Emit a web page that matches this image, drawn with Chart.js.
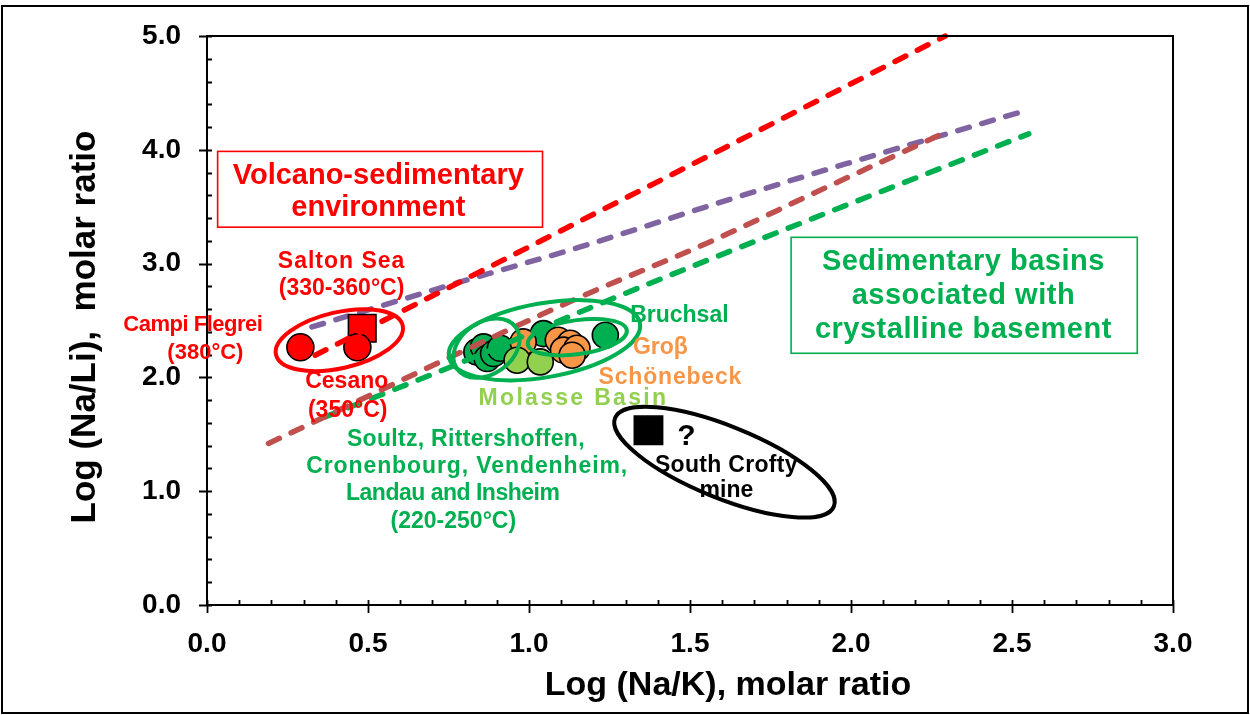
<!DOCTYPE html>
<html>
<head>
<meta charset="utf-8">
<script src="https://cdn.jsdelivr.net/npm/chart.js@4.4.1/dist/chart.umd.min.js"></script>
<style>
  html, body { margin: 0; padding: 0; background: #fff; }
  canvas { display: block; }
</style>
</head>
<body>
<canvas id="chart" width="1250" height="715"></canvas>
<script>
// ---- data: Log(Na/K) (x) vs Log(Na/Li) (y), molar ratios ----
const xTickValues = [0, 0.5, 1.0, 1.5, 2.0, 2.5, 3.0];
const yTickValues = [0, 1, 2, 3, 4, 5];

// volcano-sedimentary fluids
const campiCesanoX = [0.290, 0.467];
const campiCesanoY = [2.265, 2.265];
const saltonSeaX = [0.482];
const saltonSeaY = [2.432];

// Upper Rhine Graben fluids (Soultz, Rittershoffen, ... and Bruchsal)
const rhineX = [0.838, 0.859, 0.870, 0.890, 0.911, 1.045, 1.237];
const rhineY = [2.224, 2.268, 2.166, 2.210, 2.256, 2.385, 2.370];

// North German Basin (Groß Schönebeck)
const schoenebeckX = [0.982, 1.091, 1.128, 1.107, 1.149, 1.134];
const schoenebeckY = [2.312, 2.327, 2.300, 2.240, 2.256, 2.195];

// Molasse Basin
const molasseX = [0.963, 1.035];
const molasseY = [2.151, 2.136];

// South Crofty mine
const croftyX = [1.371];
const croftyY = [1.536];

// reference trends
const redTrendX = [0.336, 2.293];
const redTrendY = [2.195, 5.000];
const purpleTrendX = [0.326, 0.800, 1.159, 1.573, 1.988, 2.551];
const purpleTrendY = [2.443, 2.850, 3.146, 3.520, 3.880, 4.352];
const brownTrendX = [0.191, 1.160, 1.573, 1.883, 2.283];
const brownTrendY = [1.420, 2.707, 3.205, 3.617, 4.140];
const greenTrendX = [0.367, 0.756, 1.222, 1.884, 2.552];
const greenTrendY = [1.653, 2.092, 2.649, 3.400, 4.140];

// ---- styling ----
const FONT = '"Liberation Sans", Arial, Helvetica, sans-serif';
const RED = '#FF0000';
const GREEN = '#00B050';
const LIGHTGREEN = '#92D050';
const ORANGE = '#F79646';
const PURPLE = '#8064A2';
const BROWN = '#C0504D';

const zip = (xs, ys) => xs.map((x, i) => ({ x: x, y: ys[i] }));

function trend(xs, ys, color) {
  return {
    data: zip(xs, ys),
    showLine: true,
    borderColor: color,
    backgroundColor: color,
    borderWidth: 5.5,
    borderDash: [12, 13],
    borderCapStyle: 'round',
    pointRadius: 0,
    pointHoverRadius: 0,
    cubicInterpolationMode: 'monotone'
  };
}

function markers(xs, ys, color, style, radius) {
  return {
    data: zip(xs, ys),
    showLine: false,
    pointStyle: style,
    pointRadius: radius,
    pointHoverRadius: radius,
    backgroundColor: color,
    borderColor: '#000',
    pointBorderWidth: 1.6,
    borderWidth: 1.6
  };
}

// group outlines: centre in data units, semi-axes in px, tilt in degrees
const outlines = [
  { cx: 0.411, cy: 2.327, rx: 65, ry: 28, rot: -13, color: RED },
  { cx: 1.048, cy: 2.327, rx: 97, ry: 37, rot: -10, color: GREEN },
  { cx: 0.868, cy: 2.257, rx: 36, ry: 26, rot: -35, color: GREEN },
  { cx: 1.150, cy: 2.353, rx: 50, ry: 17, rot: -8, color: GREEN },
  { cx: 1.607, cy: 1.255, rx: 118, ry: 36, rot: 22, color: '#000' }
];

// framed captions: corners in data units
const captionBoxes = [
  { x0: 0.033, x1: 1.042, y0: 3.320, y1: 3.986, color: RED },
  { x0: 1.814, x1: 2.889, y0: 2.212, y1: 3.231, color: GREEN }
];

// labels: anchor (centre, baseline) in data units
const labels = [
  { t: 'Volcano-sedimentary', x: 0.532, y: 3.696, c: RED, s: 29 },
  { t: 'environment', x: 0.532, y: 3.415, c: RED, s: 29 },
  { t: 'Sedimentary basins', x: 2.349, y: 2.941, c: GREEN, s: 29, ls: 0.5 },
  { t: 'associated with', x: 2.349, y: 2.643, c: GREEN, s: 29, ls: 0.5 },
  { t: 'crystalline basement', x: 2.349, y: 2.344, c: GREEN, s: 29, ls: 0.5 },
  { t: 'Salton Sea', x: 0.418, y: 2.959, c: RED, s: 23, ls: 1 },
  { t: '(330-360°C)', x: 0.418, y: 2.722, c: RED, s: 23 },
  { t: 'Campi Flegrei', x: -0.044, y: 2.406, c: RED, s: 22, ls: -0.5 },
  { t: '(380°C)', x: -0.005, y: 2.160, c: RED, s: 22 },
  { t: 'Cesano', x: 0.434, y: 1.903, c: RED, s: 23 },
  { t: '(350°C)', x: 0.437, y: 1.653, c: RED, s: 23 },
  { t: 'Bruchsal', x: 1.467, y: 2.487, c: GREEN, s: 23 },
  { t: 'Groβ', x: 1.408, y: 2.204, c: ORANGE, s: 23 },
  { t: 'Schönebeck', x: 1.439, y: 1.940, c: ORANGE, s: 23, ls: 0.8 },
  { t: 'Molasse Basin', x: 1.138, y: 1.756, c: LIGHTGREEN, s: 23, ls: 2.3 },
  { t: 'Soultz, Rittershoffen,', x: 0.804, y: 1.396, c: GREEN, s: 23, ls: 0.3 },
  { t: 'Cronenbourg, Vendenheim,', x: 0.808, y: 1.159, c: GREEN, s: 23, ls: 0.9 },
  { t: 'Landau and Insheim', x: 0.763, y: 0.922, c: GREEN, s: 23, ls: -0.5 },
  { t: '(220-250°C)', x: 0.765, y: 0.676, c: GREEN, s: 23 },
  { t: '?', x: 1.489, y: 1.405, c: '#000', s: 30 },
  { t: 'South Crofty', x: 1.613, y: 1.170, c: '#000', s: 23, ls: 0.3 },
  { t: 'mine', x: 1.613, y: 0.951, c: '#000', s: 23 }
];

const background = {
  id: 'background',
  beforeDraw(chart) {
    const ctx = chart.ctx;
    ctx.save();
    ctx.fillStyle = '#fff';
    ctx.fillRect(0, 0, chart.width, chart.height);
    // outer frame of the figure
    ctx.strokeStyle = '#000';
    ctx.lineWidth = 2;
    ctx.strokeRect(2, 6, chart.width - 4, chart.height - 8);
    ctx.restore();
  }
};

const frameAndTicks = {
  id: 'frameAndTicks',
  afterDatasetsDraw(chart) {
    const ctx = chart.ctx;
    const xs = chart.scales.x, ys = chart.scales.y;
    const a = chart.chartArea;
    ctx.save();
    ctx.strokeStyle = '#000';
    ctx.lineWidth = 2;
    ctx.strokeRect(a.left, a.top, a.right - a.left, a.bottom - a.top);
    ctx.lineWidth = 1.8;
    ctx.beginPath();
    // x ticks: majors cross the axis, minors point inward
    for (let i = 0; i <= 30; i++) {
      const px = Math.round(xs.getPixelForValue(i / 10)) + 0.5;
      if (i % 5 === 0) { ctx.moveTo(px, a.bottom - 5); ctx.lineTo(px, a.bottom + 8); }
      else { ctx.moveTo(px, a.bottom - 5); ctx.lineTo(px, a.bottom); }
    }
    // y ticks
    for (let i = 0; i <= 25; i++) {
      const py = Math.round(ys.getPixelForValue(i / 5)) + 0.5;
      if (i % 5 === 0) { ctx.moveTo(a.left - 8, py); ctx.lineTo(a.left + 5, py); }
      else { ctx.moveTo(a.left, py); ctx.lineTo(a.left + 5, py); }
    }
    ctx.stroke();

    // axis titles
    ctx.fillStyle = '#000';
    ctx.textAlign = 'center';
    ctx.textBaseline = 'alphabetic';
    ctx.font = 'bold 34px ' + FONT;
    ctx.fillText('Log (Na/K), molar ratio', 728, 695);
    ctx.save();
    ctx.font = 'bold 35px ' + FONT;
    ctx.translate(95, 327);
    ctx.rotate(-Math.PI / 2);
    ctx.fillText('Log (Na/Li),  molar ratio', 0, 0);
    ctx.restore();
    ctx.restore();
  }
};

const annotationsPlugin = {
  id: 'annotationsPlugin',
  afterDatasetsDraw(chart) {
    const ctx = chart.ctx;
    const xs = chart.scales.x, ys = chart.scales.y;
    ctx.save();
    // caption frames
    captionBoxes.forEach(b => {
      const x0 = xs.getPixelForValue(b.x0), x1 = xs.getPixelForValue(b.x1);
      const y0 = ys.getPixelForValue(b.y0), y1 = ys.getPixelForValue(b.y1);
      ctx.strokeStyle = b.color;
      ctx.lineWidth = 1.6;
      ctx.strokeRect(x0, y1, x1 - x0, y0 - y1);
    });
    // group outlines
    outlines.forEach(o => {
      ctx.beginPath();
      ctx.ellipse(xs.getPixelForValue(o.cx), ys.getPixelForValue(o.cy), o.rx, o.ry,
        o.rot * Math.PI / 180, 0, Math.PI * 2);
      ctx.strokeStyle = o.color;
      ctx.lineWidth = 4;
      ctx.stroke();
    });
    // text labels
    ctx.textAlign = 'center';
    ctx.textBaseline = 'alphabetic';
    labels.forEach(l => {
      ctx.font = 'bold ' + l.s + 'px ' + FONT;
      ctx.fillStyle = l.c;
      ctx.letterSpacing = (l.ls || 0) + 'px';
      ctx.fillText(l.t, xs.getPixelForValue(l.x), ys.getPixelForValue(l.y));
    });
    ctx.letterSpacing = '0px';
    ctx.restore();
  }
};

const datasets = [
  trend(redTrendX, redTrendY, RED),
  trend(brownTrendX, brownTrendY, BROWN),
  trend(greenTrendX, greenTrendY, GREEN),
  markers(molasseX, molasseY, LIGHTGREEN, 'circle', 13),
  markers(schoenebeckX, schoenebeckY, ORANGE, 'circle', 13),
  markers(rhineX, rhineY, GREEN, 'circle', 13),
  markers(campiCesanoX, campiCesanoY, RED, 'circle', 13.5),
  markers(croftyX, croftyY, '#000', 'rect', 20),
  markers(saltonSeaX, saltonSeaY, RED, 'rect', 19.5),
  trend(purpleTrendX, purpleTrendY, PURPLE)
];

new Chart(document.getElementById('chart'), {
  type: 'scatter',
  data: { datasets: datasets },
  options: {
    responsive: false,
    animation: false,
    events: [],
    clip: false,
    layout: { padding: { top: 36, right: 77, left: 0, bottom: 0 } },
    plugins: { legend: { display: false }, tooltip: { enabled: false } },
    scales: {
      x: {
        type: 'linear', min: 0, max: 3,
        afterFit(s) { s.height = 110; },
        afterBuildTicks(s) { s.ticks = xTickValues.map(v => ({ value: v })); },
        // tick marks are drawn by the frame plugin; tickLength only spaces the labels
        grid: { display: false, drawTicks: true, tickLength: 14 },
        border: { display: false },
        ticks: {
          padding: 8,
          color: '#000',
          font: { family: FONT, size: 28, weight: 'bold' },
          callback: v => Number(v).toFixed(1),
          maxRotation: 0
        }
      },
      y: {
        type: 'linear', min: 0, max: 5,
        afterFit(s) { s.width = 207; },
        afterBuildTicks(s) { s.ticks = yTickValues.map(v => ({ value: v })); },
        grid: { display: false, drawTicks: true, tickLength: 18 },
        border: { display: false },
        ticks: {
          padding: 8,
          color: '#000',
          font: { family: FONT, size: 28, weight: 'bold' },
          callback: v => Number(v).toFixed(1)
        }
      }
    }
  },
  plugins: [background, frameAndTicks, annotationsPlugin]
});
</script>
</body>
</html>
